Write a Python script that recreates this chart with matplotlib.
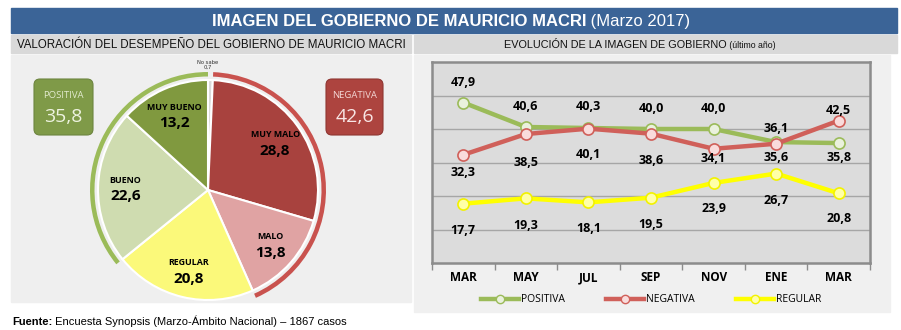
import matplotlib.pyplot as plt
from matplotlib.patches import Rectangle, FancyBboxPatch, Wedge
from matplotlib.lines import Line2D
import numpy as np

# datos del grafico de torta (orden horario desde las 12)
categorias = ["No sabe", "MUY MALO", "MALO", "REGULAR", "BUENO", "MUY BUENO"]
valores = [0.7, 28.8, 13.8, 20.8, 22.6, 13.2]
positiva_total = 35.8
negativa_total = 42.6

# datos de la evolucion
meses = ["MAR", "MAY", "JUL", "SEP", "NOV", "ENE", "MAR"]
positiva = [47.9, 40.6, 40.3, 40.0, 40.0, 36.1, 35.8]
negativa = [32.3, 38.5, 40.1, 38.6, 34.1, 35.6, 42.5]
regular = [17.7, 19.3, 18.1, 19.5, 23.9, 26.7, 20.8]

# desplazamiento de las etiquetas (px, positivo = arriba)
off_pos = [20, 20, 21, 21, 21, 14, -14]
off_neg = [-18, -28, -26, -27, -10, -14, 10]
off_reg = [-27, -27, -26, -27, -26, -27, -25]

colores_torta = ["#d9d9d9", "#a8423e", "#e0a3a3", "#fbf97a", "#cfdcb0", "#80993f"]
c_pos = "#9bbb59"
c_neg = "#d0605a"
c_reg = "#ffff00"

narrow = ["Liberation Sans", "DejaVu Sans"]
cal = ["Open Sans", "DejaVu Sans"]


def fmt(v):
    return f"{v:.1f}".replace(".", ",")


W, H = 901, 330
fig = plt.figure(figsize=(W / 100, H / 100), dpi=100)
fig.patch.set_facecolor("white")
renderer = fig.canvas.get_renderer()

bg = fig.add_axes([0, 0, 1, 1])
bg.set_xlim(0, W)
bg.set_ylim(H, 0)
bg.axis("off")


def texto_doble(x, y, s1, s2, kw1, kw2):
    # dos textos seguidos sobre la misma linea base
    t = bg.text(x, y, s1, ha="left", va="baseline", **kw1)
    ancho = t.get_window_extent(renderer=renderer).width
    bg.text(x + ancho, y, s2, ha="left", va="baseline", **kw2)


# barra de titulo
bg.add_patch(Rectangle((11, 8), 886, 25, color="#3b6497"))
texto_doble(212, 26, "IMAGEN DEL GOBIERNO DE MAURICIO MACRI", " (Marzo 2017)",
            dict(color="white", fontsize=12, fontweight="bold", family=narrow),
            dict(color="white", fontsize=12, family=narrow))

# bandas de subtitulo y paneles
bg.add_patch(Rectangle((11, 35), 400, 18, color="#d9d9d9"))
bg.add_patch(Rectangle((414, 35), 483, 18, color="#d9d9d9"))
bg.add_patch(Rectangle((11, 55), 400, 247, color="#efefef"))
bg.add_patch(Rectangle((414, 55), 476, 257, color="#f0f0f0"))
bg.text(211, 44.5, "VALORACIÓN DEL DESEMPEÑO DEL GOBIERNO DE MAURICIO MACRI",
        fontsize=8.3, family=narrow, ha="center", va="center", color="#111111")
texto_doble(504, 48, "EVOLUCIÓN DE LA IMAGEN DE GOBIERNO", " (último año)",
            dict(fontsize=7.8, family=narrow, color="#111111"),
            dict(fontsize=6.3, family=narrow, color="#111111"))

# cajas POSITIVA / NEGATIVA
bg.add_patch(FancyBboxPatch((36, 81), 55, 52, boxstyle="round,pad=2,rounding_size=6",
                            fc="#7f9a48", ec="#6d8540", lw=0.8))
bg.text(63.5, 96, "POSITIVA", color="#e3ebcf", fontsize=6.8, ha="center",
        va="center", family=cal)
bg.text(63.5, 117, fmt(positiva_total), color="#eef3e0", fontsize=14,
        ha="center", va="center", family=cal)
bg.add_patch(FancyBboxPatch((328, 81), 53, 52, boxstyle="round,pad=2,rounding_size=6",
                            fc="#ad443f", ec="#8f3632", lw=0.8))
bg.text(354.5, 96, "NEGATIVA", color="#f3d6d4", fontsize=6.8, ha="center",
        va="center", family=cal)
bg.text(354.5, 117, fmt(negativa_total), color="#f8e6e5", fontsize=14,
        ha="center", va="center", family=cal)

# fuente
texto_doble(12, 325, "Fuente:", " Encuesta Synopsis (Marzo-Ámbito Nacional) – 1867 casos",
            dict(fontsize=8, fontweight="bold", family=["Liberation Sans", "DejaVu Sans"]),
            dict(fontsize=8, family=["Liberation Sans", "DejaVu Sans"]))

# torta
cx, cy, half = 208, 190, 125
ax1 = fig.add_axes([(cx - half) / W, (H - cy - half) / H, 2 * half / W, 2 * half / H])
ax1.axis("off")
r = 110 / half
wedges, _ = ax1.pie(valores, colors=colores_torta, startangle=90, counterclock=False,
                    radius=r, wedgeprops=dict(edgecolor="white", linewidth=1.5))
ax1.set_xlim(-1, 1)
ax1.set_ylim(-1, 1)

for w, nombre, v in zip(wedges, categorias, valores):
    if nombre == "No sabe":
        continue
    ang = np.deg2rad((w.theta1 + w.theta2) / 2)
    x = 0.75 * r * np.cos(ang)
    y = 0.75 * r * np.sin(ang)
    ax1.text(x, y + 0.06, nombre, fontsize=6.4, fontweight="bold", ha="center",
             va="center", family=cal)
    ax1.text(x, y - 0.07, fmt(v), fontsize=11, fontweight="bold", ha="center",
             va="center", family=cal)

ax1.text(0, 1.0, "No sabe\n" + fmt(valores[0]), fontsize=3.8, ha="center",
         va="center", linespacing=1.0, color="#333333")

# arcos exteriores
tot = sum(valores)
ang_pos = positiva_total / tot * 360
ang_ns = valores[0] / tot * 360
ang_neg = negativa_total / tot * 360
ax1.add_patch(Wedge((0, 0), 118 / half, 90, 90 + ang_pos, width=4.5 / half,
                    fc=c_pos, ec="none"))
ax1.add_patch(Wedge((0, 0), 118 / half, 90 - ang_ns - ang_neg, 90 - ang_ns,
                    width=4.5 / half, fc="#c9524e", ec="none"))

# grafico de lineas
x0, x1, y0, y1 = 432, 870, 62, 263
ax2 = fig.add_axes([x0 / W, (H - y1) / H, (x1 - x0) / W, (y1 - y0) / H])
ax2.set_facecolor("#dcdcdc")
ax2.set_xlim(-0.5, len(meses) - 0.5)
ax2.set_ylim(0, 60)
ax2.set_yticks([10, 20, 30, 40, 50])
ax2.set_yticklabels([])
ax2.tick_params(axis="y", length=0)
ax2.grid(axis="y", color="#a6a6a6", linewidth=1)
ax2.set_axisbelow(True)
for s in ax2.spines.values():
    s.set_color("#8c8c8c")
    s.set_linewidth(1.8)

xs = np.arange(len(meses))
ax2.set_xticks(np.arange(-0.5, len(meses), 1), minor=False)
ax2.set_xticklabels([])
ax2.tick_params(axis="x", length=5, color="#8c8c8c", width=1)
ax2.set_xticks(xs, minor=True)
ax2.set_xticklabels(meses, minor=True, fontsize=8.5, fontweight="bold", family=cal)
ax2.tick_params(axis="x", which="minor", length=0, pad=6)

series = [
    (positiva, c_pos, "#eaf1dd", c_pos, off_pos, "POSITIVA"),
    (negativa, c_neg, "#f9dcdc", c_neg, off_neg, "NEGATIVA"),
    (regular, c_reg, "#ffffa8", "#f2f200", off_reg, "REGULAR"),
]
handles = []
for vals, col, face, edge, offs, nombre in series:
    ax2.plot(xs, vals, color=col, linewidth=3.2, marker="o", markersize=8,
             markerfacecolor=face, markeredgecolor=edge, markeredgewidth=1.2,
             solid_capstyle="round")
    for xi, v, o in zip(xs, vals, offs):
        ax2.annotate(fmt(v), (xi, v), xytext=(0, o * 0.72), textcoords="offset points",
                     ha="center", va="center", fontsize=9, fontweight="bold",
                     family=cal)
    handles.append(Line2D([], [], color=col, linewidth=3.2, marker="o", markersize=6,
                          markerfacecolor=face, markeredgecolor=edge,
                          markeredgewidth=1, label=nombre))

ax2.legend(handles=handles, loc="upper center", bbox_to_anchor=(0.5, -0.11), ncol=3,
           frameon=False, handlelength=3.6, handletextpad=0.2, columnspacing=4,
           prop={"family": cal, "size": 7.5})

fig.savefig("out.png", dpi=100, facecolor="white")
